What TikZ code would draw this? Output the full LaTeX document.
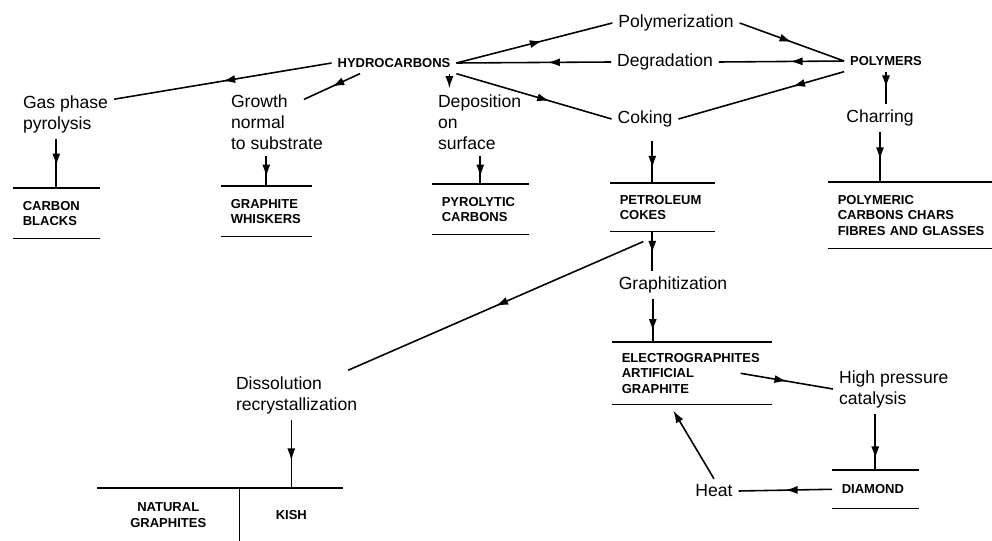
\documentclass[tikz,border=0pt]{standalone}
\usepackage{fontspec}
\setmainfont{Liberation Sans}
\usetikzlibrary{arrows.meta, decorations.markings}

\newcommand{\prodfont}{\fontsize{7.4}{8.8}\selectfont\bfseries}
\newcommand{\procfont}{\fontsize{10}{12}\selectfont}

\tikzset{
  proc/.style={font=\procfont, align=left, inner xsep=3pt, inner ysep=3pt},
  tag/.style={font=\prodfont, inner xsep=3pt, inner ysep=3pt},
  prod/.style={font=\prodfont, align=left, anchor=north west, inner xsep=0.18cm, inner ysep=0pt, text width=#1},
  flow/.style={postaction={decorate}, decoration={markings,
      mark=at position #1 with {\arrow{Latex[length=7pt,width=4.6pt]}}}},
  flow/.default=0.5,
  endarrow/.style={-{Latex[length=7pt,width=4.6pt]}},
}

\begin{document}
\begin{tikzpicture}[x=0.02cm, y=-0.02cm, line width=0.9pt]
    \useasboundingbox (0,0) rectangle (992,541);

    % starting materials
    \node[tag] (hc) at (394,63) {HYDROCARBONS};
    \node[tag] (polys) at (886,61) {POLYMERS};

    % processes
    \node[proc, anchor=west] (gas) at (17,114) {Gas phase\\pyrolysis};
    \node[proc, anchor=west] (growth) at (225,122) {Growth\\normal\\to substrate};
    \node[proc, anchor=west] (dep) at (432,122) {Deposition\\on\\surface};
    \node[proc] (poly) at (676,23) {Polymerization};
    \node[proc] (degr) at (665,62) {Degradation};
    \node[proc] (coke) at (645,119) {Coking};
    \node[proc] (char) at (880,118) {Charring};
    \node[proc] (graph) at (673,285) {Graphitization};
    \node[proc, anchor=west] (diss) at (230,395) {Dissolution\\recrystallization};
    \node[proc, anchor=west] (hp) at (833,389) {High pressure\\catalysis};
    \node[proc] (heat) at (714,491) {Heat};

    % products
    \node[prod=1.34cm, minimum height=0.98cm] (cb) at (13,188) {CARBON\\BLACKS};
    \node[prod=1.42cm, minimum height=0.98cm] (gw) at (221,186) {GRAPHITE\\WHISKERS};
    \node[prod=1.54cm, minimum height=0.98cm] (pc) at (432,184) {PYROLYTIC\\CARBONS};
    \node[prod=1.70cm, minimum height=0.94cm] (pk) at (610,183) {PETROLEUM\\COKES};
    \node[prod=2.92cm, minimum height=1.30cm] (pg) at (828,182) {POLYMERIC\\CARBONS CHARS\\\mbox{FIBRES AND GLASSES}};
    \node[prod=2.80cm, minimum height=1.22cm] (eg) at (612,342) {ELECTROGRAPHITES\\ARTIFICIAL\\GRAPHITE};
    \node[prod=1.34cm, minimum height=0.74cm] (dm) at (832,470) {DIAMOND};
    \node[prod=2.46cm, minimum height=1.06cm, align=center] (ng) at (97,488) {NATURAL\\GRAPHITES};
    \node[prod=1.68cm, minimum height=1.06cm, align=center] (ks) at (ng.north east) {KISH};

    \foreach \b in {cb,gw,pc,pk,pg,eg,dm}
        \draw (\b.north west) -- (\b.north east) (\b.south west) -- (\b.south east);
    \draw (ng.north west) -- (ks.north east) (ng.north east) -- (ng.south east);

    % hydrocarbons and polymers
    \draw[flow] (hc.west) -- ([yshift=-0.2cm]gas.north east);
    \draw[flow] ([xshift=-0.68cm]hc.south) -- ([shift={(-0.5cm,-0.22cm)}]growth.north east);
    \draw[endarrow] ([xshift=-0.14cm]hc.south east) -- ([xshift=-0.14cm]hc.south east |- dep.north);
    \draw[flow=0.55] (hc.east) -- (poly.west);
    \draw[flow] (poly.east) -- (polys.west);
    \draw[flow=0.43] (polys.west) -- (degr.east);
    \draw[flow=0.41] (degr.west) -- (hc.east);
    \draw[flow=0.6] (hc.south east) -- (coke.west);
    \draw[flow=0.31] (polys.south west) -- (coke.east);
    \draw[flow] (polys.south) -- (polys.south |- char.north);
    \draw[flow=0.55] (char.south) -- (char.south |- pg.north);

    % down to the products
    \draw[flow=0.55] (cb.north |- gas.south) -- (cb.north);
    \draw[flow=0.7] (gw.north |- growth.south) -- (gw.north);
    \draw[flow=0.75] (pc.north |- dep.south) -- (pc.north);
    \draw[flow=0.7, shorten <=0.15cm] ([xshift=-0.2cm]pk.north |- coke.south) -- ([xshift=-0.2cm]pk.north);

    % cokes onwards
    \draw[flow=0.55] ([xshift=-0.2cm]pk.south) -- ([xshift=-0.2cm]pk.south |- graph.north);
    \draw[flow] ([shift={(-0.38cm,-0.2cm)}]pk.south) -- ([xshift=-0.3cm]diss.north east);
    \draw[flow=0.75] ([xshift=-0.78cm]eg.north |- graph.south) -- ([xshift=-0.78cm]eg.north);
    \draw[flow=0.6] (ks.north |- diss.south) -- (ks.north);
    \draw[flow] ([xshift=-0.62cm]eg.east) -- (hp.west);
    \draw[flow=0.8] (dm.north |- hp.south) -- (dm.north);
    \draw[flow] (dm.west) -- (heat.east);
    \draw[endarrow, shorten >=0.14cm] (heat.north) -- ([xshift=-0.44cm]eg.south);
\end{tikzpicture}
\end{document}
